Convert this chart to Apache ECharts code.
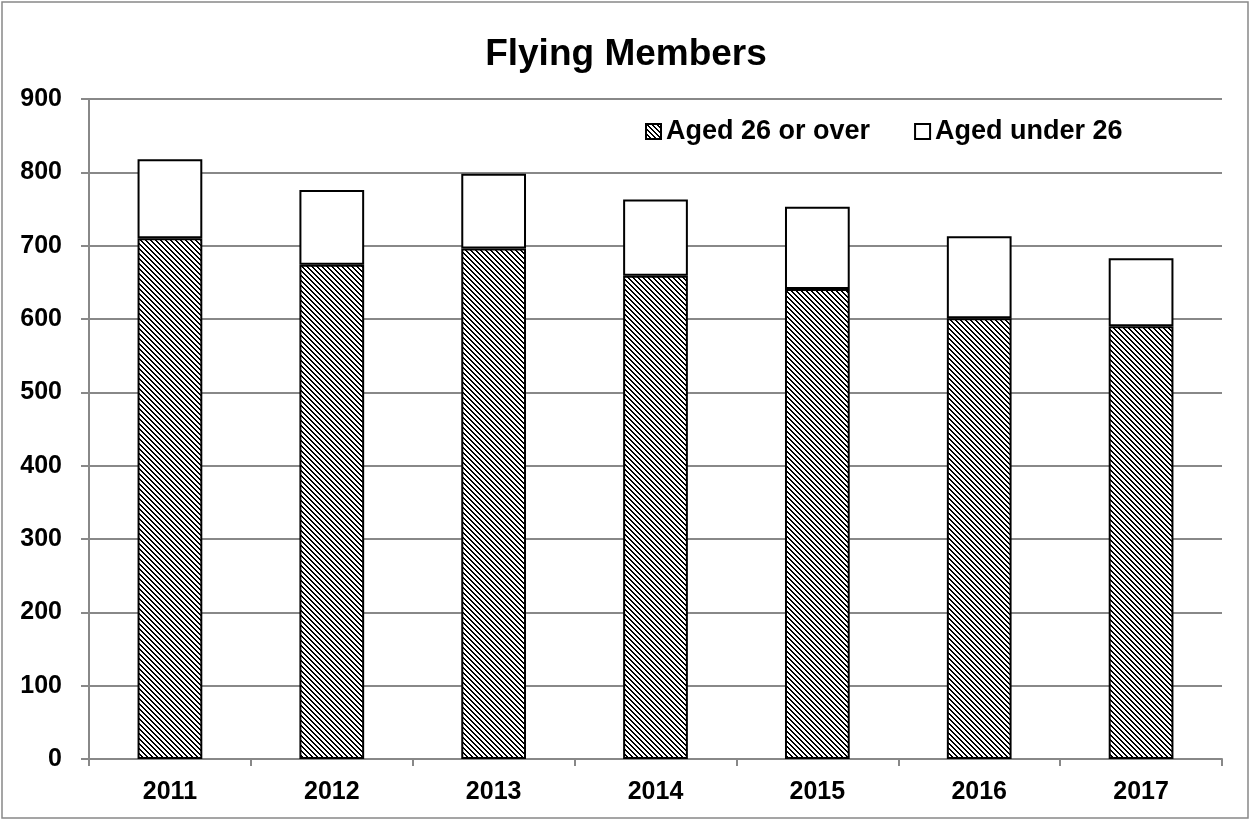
<!DOCTYPE html>
<html>
<head>
<meta charset="utf-8">
<script src="https://cdn.jsdelivr.net/npm/echarts@6/dist/echarts.min.js"></script>
<style>
  html, body { margin: 0; padding: 0; background: #fff; }
  #chart { width: 1252px; height: 821px; }
</style>
</head>
<body>
<div id="chart"></div>
<script>
// data
var years = ['2011', '2012', '2013', '2014', '2015', '2016', '2017'];
var agedOver26 = [710, 674, 696, 659, 641, 601, 590];
var agedUnder26 = [108, 102, 102, 104, 112, 112, 93];
var yTicks = { min: 0, max: 900, interval: 100 };

// diagonal hatch like the excel fill
function makeHatch() {
    var c = document.createElement('canvas');
    c.width = 5; c.height = 5;
    var ctx = c.getContext('2d');
    ctx.fillStyle = '#fff';
    ctx.fillRect(0, 0, 5, 5);
    ctx.fillStyle = '#000';
    for (var y = 0; y < 5; y++) {
        ctx.fillRect(y % 5, y, 1, 1);
        ctx.fillRect((y + 1) % 5, y, 1, 1);
    }
    return c;
}

var chart = echarts.init(document.getElementById('chart'));
var font = '"Liberation Sans", Arial, sans-serif';

var option = {
    animation: false,
    backgroundColor: '#fff',
    title: {
        text: 'Flying Members',
        left: 'center',
        top: 31,
        textStyle: { fontFamily: font, fontWeight: 'bold', fontSize: 37, color: '#000' }
    },
    legend: {
        left: 640,
        top: 113,
        icon: 'rect',
        itemWidth: 15,
        itemHeight: 15,
        itemGap: 44,
        textStyle: { fontFamily: font, fontWeight: 'bold', fontSize: 27, color: '#000' },
        data: ['Aged 26 or over', 'Aged under 26']
    },
    graphic: [{
        type: 'rect',
        shape: { x: 2, y: 2, width: 1246, height: 816 },
        style: { fill: null, stroke: '#888', lineWidth: 1.5 },
        silent: true
    }],
    grid: { left: 89, right: 30, top: 99, bottom: 62 },
    xAxis: {
        type: 'category',
        data: years,
        axisLine: { lineStyle: { color: '#888', width: 2 } },
        axisTick: { show: true, length: 7, lineStyle: { color: '#888', width: 2 } },
        axisLabel: { margin: 21, fontFamily: font, fontWeight: 'bold', fontSize: 25, color: '#000' }
    },
    yAxis: {
        type: 'value',
        min: yTicks.min,
        max: yTicks.max,
        interval: yTicks.interval,
        axisLine: { show: true, lineStyle: { color: '#888', width: 2 } },
        axisTick: { show: true, inside: false, length: 8, lineStyle: { color: '#888', width: 2 } },
        axisLabel: { margin: 27, fontFamily: font, fontWeight: 'bold', fontSize: 25, color: '#000' },
        splitLine: { show: true, lineStyle: { color: '#888', width: 2 } }
    },
    series: [
        {
            name: 'Aged 26 or over',
            type: 'bar',
            stack: 'total',
            barWidth: '40%',
            data: agedOver26,
            itemStyle: {
                color: { image: makeHatch(), repeat: 'repeat' },
                borderColor: '#000',
                borderWidth: 2
            }
        },
        {
            name: 'Aged under 26',
            type: 'bar',
            stack: 'total',
            barWidth: '40%',
            data: agedUnder26,
            itemStyle: {
                color: '#fff',
                borderColor: '#000',
                borderWidth: 2
            }
        }
    ]
};

chart.setOption(option);
</script>
</body>
</html>
